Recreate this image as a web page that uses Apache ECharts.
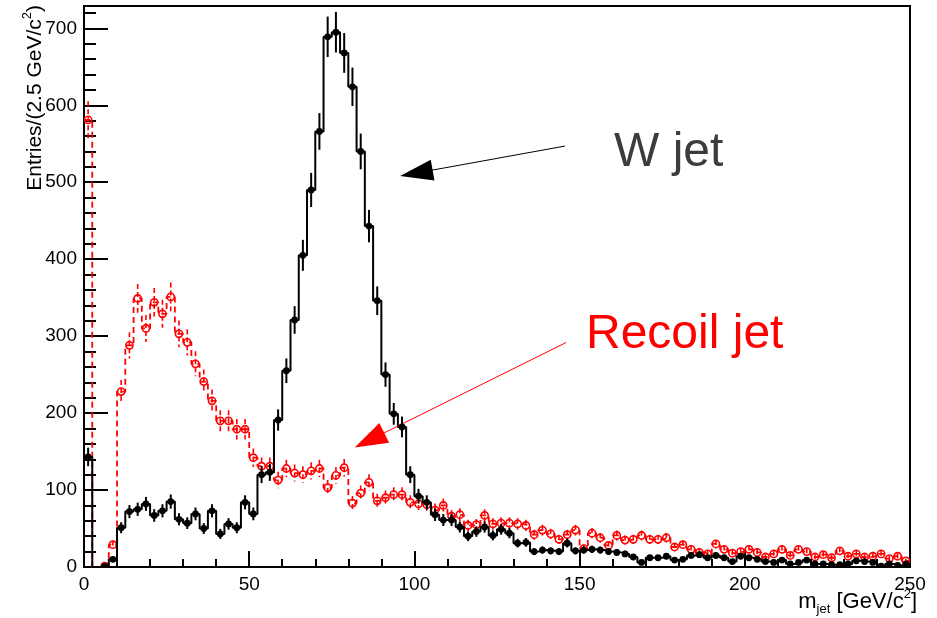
<!DOCTYPE html>
<html><head><meta charset="utf-8">
<script src="https://cdn.jsdelivr.net/npm/echarts@6/dist/echarts.min.js"></script>
<style>html,body{margin:0;padding:0;background:#fff}#c{width:937px;height:618px}</style>
</head><body><div id="c"></div>
<script>
// Binning of the histograms
const binWidth = 2.5;
const xRange = [0, 250];
const yRange = [0, 729];
const xTickStep = 50;
const yTickStep = 100;

// W jet (black, solid)
const wJet = [143,0,1,10,51,72,75,82,67,73,85,62,57,69,50,73,43,56,51,84,
  69,120,123,191,255,321,405,490,566,689,695,668,624,540,443,346,250,199,182,120,
  92,84,68,61,61,52,40,46,52,41,49,44,31,32,20,22,21,20,31,21,
  22,23,22,20,19,17,13,6,12,12,14,9,10,15,16,12,15,12,7,14,
  12,10,7,6,9,4,6,9,4,4,3,3,4,8,7,6,1,4,2,4];

// Recoil jet (red, dashed)
const recoilJet = [581,0,1,29,228,288,349,310,344,329,351,303,292,264,241,216,190,190,179,179,
  142,131,131,113,128,122,120,125,128,103,119,129,83,96,110,86,90,94,94,84,
  82,81,74,80,66,68,54,55,67,56,57,57,56,54,42,48,43,36,42,48,
  24,44,38,28,41,35,36,41,36,36,38,26,29,23,19,17,30,23,18,20,
  23,19,13,17,23,15,23,20,13,16,12,21,14,17,13,14,17,11,14,8];

// Annotation arrows (data coordinates: start -> head centre)
const wArrow = [[145.6, 547], [100.6, 512]];
const recoilArrow = [[145.9, 291.7], [86.4, 164.8]];
const wLabel = 'W jet';
const recoilLabel = 'Recoil jet';

const FONT = "'Liberation Sans', Arial, Helvetica, sans-serif";

function edges(vals) {
  const d = vals.map((v, i) => [xRange[0] + i * binWidth, v]);
  d.push([xRange[0] + vals.length * binWidth, vals[vals.length - 1]]);
  return d;
}
function centers(vals) {
  return vals.map((v, i) => [xRange[0] + (i + 0.5) * binWidth, v]);
}
function errRender(color, dashed, open) {
  return function (params, api) {
    const x = api.value(0), y = api.value(1);
    if (!(y > 0)) return { type: 'group', children: [] };
    const e = Math.sqrt(y);
    const c = api.coord([x, y]);
    const t = api.coord([x, y + e]);
    const b = api.coord([x, Math.max(0, y - e)]);
    const ls = { stroke: color, lineWidth: dashed ? 1.6 : 2, lineDash: dashed ? [5, 3] : null };
    const ch = [
      { type: 'line', shape: { x1: c[0], y1: t[1], x2: c[0], y2: b[1] }, style: ls }
    ];
    if (open) {
      ch.push({ type: 'circle', shape: { cx: c[0], cy: c[1], r: 3.6 }, style: { fill: 'rgba(255,255,255,0)', stroke: color, lineWidth: 1.6 } });
    } else {
      ch.push({ type: 'circle', shape: { cx: c[0], cy: c[1], r: 3.4 }, style: { fill: color } });
    }
    return { type: 'group', children: ch };
  };
}

const chart = echarts.init(document.getElementById('c'), null, { renderer: 'canvas' });
chart.setOption({
  animation: false,
  backgroundColor: '#fff',
  grid: { left: 84, right: 27, top: 6, bottom: 51, show: true, borderColor: '#000', borderWidth: 2, backgroundColor: 'rgba(0,0,0,0)' },
  xAxis: {
    type: 'value', min: xRange[0], max: xRange[1], interval: xTickStep,
    axisLine: { show: true, onZero: false, lineStyle: { color: '#000', width: 2 } },
    axisTick: { show: true, inside: true, length: 16, lineStyle: { color: '#000', width: 2 } },
    minorTick: { show: true, splitNumber: 5, length: 8, lineStyle: { color: '#000', width: 2 } },
    axisLabel: { margin: 8, color: '#000', fontSize: 19, fontFamily: FONT, showMinLabel: true, showMaxLabel: true },
    splitLine: { show: false }
  },
  yAxis: [
    {
      type: 'value', min: yRange[0], max: yRange[1], interval: yTickStep,
      axisLine: { show: true, onZero: false, lineStyle: { color: '#000', width: 2 } },
      axisTick: { show: true, inside: true, length: 24, lineStyle: { color: '#000', width: 2 } },
      axisLabel: { margin: 7, color: '#000', fontSize: 19, fontFamily: FONT, showMaxLabel: false,
        formatter: v => (v % yTickStep === 0 ? String(v) : '') },
      splitLine: { show: false }
    },
    {
      type: 'value', min: yRange[0], max: yRange[1], interval: 20, position: 'left',
      axisLine: { show: false },
      axisTick: { show: true, inside: true, length: 12, lineStyle: { color: '#000', width: 2 } },
      axisLabel: { show: false },
      splitLine: { show: false }
    }
  ],
  series: [
    {
      type: 'line', name: 'Recoil jet', yAxisIndex: 0, step: 'end', data: edges(recoilJet),
      showSymbol: false, symbol: 'none', clip: true,
      lineStyle: { color: '#ff0000', width: 1.8, type: [6, 4] }, z: 2,
      markLine: {
        silent: true, animation: false, symbol: ['none', 'triangle'], symbolSize: [22, 33],
        label: { show: false }, emphasis: { disabled: true },
        lineStyle: { color: '#ff0000', width: 1, type: 'solid' },
        itemStyle: { color: '#ff0000' },
        data: [[{ coord: recoilArrow[0] }, { coord: recoilArrow[1] }]]
      }
    },
    {
      type: 'custom', name: 'Recoil jet err', yAxisIndex: 0, data: centers(recoilJet), clip: true,
      renderItem: errRender('#ff0000', true, true), z: 3
    },
    {
      type: 'line', name: 'W jet', yAxisIndex: 0, step: 'end', data: edges(wJet),
      showSymbol: false, symbol: 'none', clip: true,
      lineStyle: { color: '#000', width: 2 }, z: 4,
      markLine: {
        silent: true, animation: false, symbol: ['none', 'triangle'], symbolSize: [21, 33],
        label: { show: false }, emphasis: { disabled: true },
        lineStyle: { color: '#000', width: 1, type: 'solid' },
        itemStyle: { color: '#000' },
        data: [[{ coord: wArrow[0] }, { coord: wArrow[1] }]]
      }
    },
    {
      type: 'custom', name: 'W jet err', yAxisIndex: 0, data: centers(wJet), clip: true,
      renderItem: errRender('#000', false, false), z: 5
    }
  ],
  graphic: [
    { type: 'text', x: 614, y: 153, z: 10, style: { text: wLabel, font: '48px ' + FONT, fill: '#3c3c3c', align: 'left', verticalAlign: 'middle' } },
    { type: 'text', x: 586, y: 335, z: 10, style: { text: recoilLabel, font: '48px ' + FONT, fill: '#ff0000', align: 'left', verticalAlign: 'middle' } },
    { type: 'text', x: 35, y: 5, rotation: Math.PI / 2, z: 10,
      style: { text: 'Entries/(2.5 GeV/c{sup|2})', font: '21px ' + FONT, fill: '#000', align: 'right', verticalAlign: 'middle',
        lineHeight: 28, rich: { sup: { fontSize: 13, fontFamily: FONT, verticalAlign: 'top', lineHeight: 28 } } } },
    { type: 'text', x: 917, y: 602, z: 10,
      style: { text: 'm{sub|jet} [GeV/c{sup|2}]', font: '22px ' + FONT, fill: '#000', align: 'right', verticalAlign: 'middle',
        lineHeight: 28, rich: { sub: { fontSize: 13, fontFamily: FONT, verticalAlign: 'bottom', lineHeight: 28 }, sup: { fontSize: 13, fontFamily: FONT, verticalAlign: 'top', lineHeight: 28 } } } }
  ]
});
</script></body></html>
